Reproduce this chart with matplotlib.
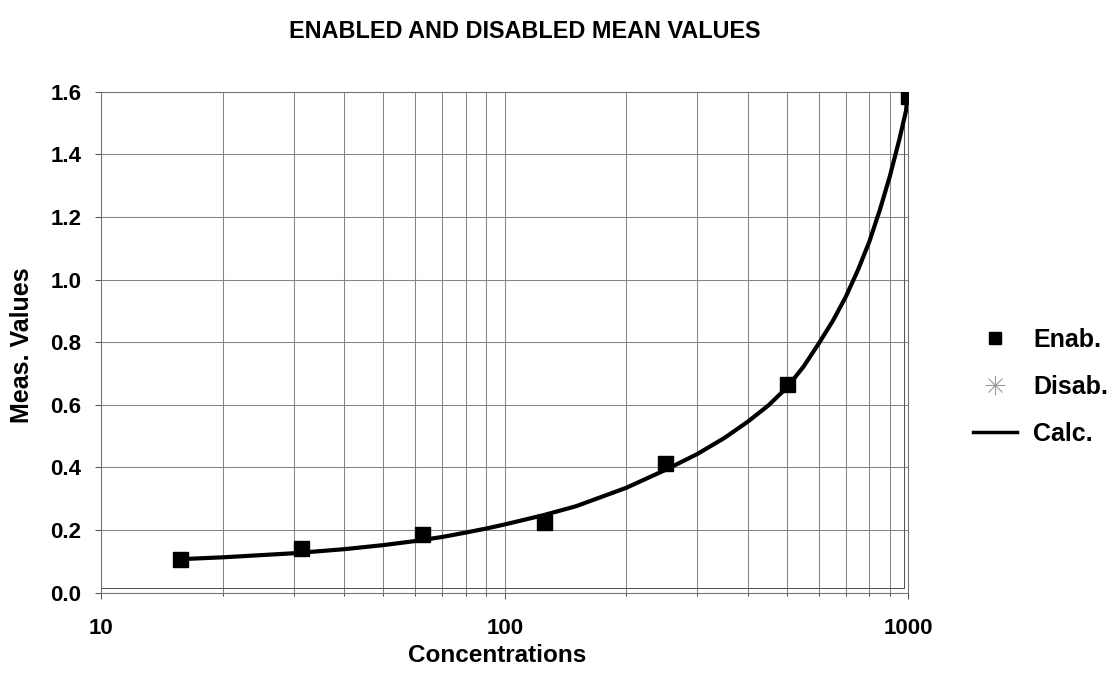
import matplotlib
matplotlib.use('Agg')
import matplotlib.pyplot as plt
from matplotlib.lines import Line2D
from matplotlib.path import Path
from matplotlib.ticker import LogLocator, NullFormatter, FixedLocator, FixedFormatter

# ---------------- data ----------------
conc = [15.625, 31.25, 62.5, 125, 250, 500, 1000]
enab = [0.108, 0.142, 0.187, 0.227, 0.414, 0.666, 1.585]
disab_x = []
disab_y = []
calc_x = [15.625, 20, 30, 40, 50, 60, 70, 80, 90, 100, 125, 150, 200, 250,
          300, 350, 400, 450, 500, 550, 600, 650, 700, 750, 800, 850, 900, 950, 1000]
calc_y = [0.107, 0.113, 0.126, 0.139, 0.152, 0.165, 0.178, 0.192, 0.205, 0.218,
          0.248, 0.276, 0.335, 0.392, 0.443, 0.494, 0.546, 0.598, 0.655, 0.722,
          0.796, 0.868, 0.945, 1.030, 1.120, 1.222, 1.330, 1.447, 1.570]
x_ticks = [10, 100, 1000]
x_tick_labels = ['10', '100', '1000']
y_ticks = [0.0, 0.2, 0.4, 0.6, 0.8, 1.0, 1.2, 1.4, 1.6]
y_tick_labels = ['0.0', '0.2', '0.4', '0.6', '0.8', '1.0', '1.2', '1.4', '1.6']
series_labels = ['Enab.', 'Disab.', 'Calc.']
title = 'ENABLED AND DISABLED MEAN VALUES'
x_label = 'Concentrations'
y_label = 'Meas. Values'

# ---------------- style ----------------
plt.rcParams['font.family'] = ['Liberation Sans', 'DejaVu Sans']
plt.rcParams['font.weight'] = 'bold'

W, H = 1111, 680
fig = plt.figure(figsize=(W / 100, H / 100), dpi=100)
L, R, T, B = 101.3, 908.3, 91.7, 592.7
ax = fig.add_axes([L / W, 1 - B / H, (R - L) / W, (B - T) / H])

ax.set_xscale('log')
ax.set_xlim(10, 1000)
ax.set_ylim(0, 1.6)
ax.xaxis.set_major_locator(FixedLocator(x_ticks))
ax.xaxis.set_major_formatter(FixedFormatter(x_tick_labels))
ax.xaxis.set_minor_locator(LogLocator(base=10, subs=range(2, 10)))
ax.xaxis.set_minor_formatter(NullFormatter())
ax.set_yticks(y_ticks)
ax.set_yticklabels(y_tick_labels)

gcol = '#858585'
ax.set_axisbelow(True)
ax.grid(which='both', axis='x', color=gcol, lw=0.75)
ax.grid(which='major', axis='y', color=gcol, lw=0.75)

for s in ['left', 'bottom', 'right', 'top']:
    ax.spines[s].set_color('#707070')
    ax.spines[s].set_linewidth(0.75)

# inner plot-area border (right and bottom)
ax.plot([0, 0.995, 0.995], [0.0088, 0.0088, 1.0], transform=ax.transAxes,
        color='#555555', lw=0.75, clip_on=False, zorder=1)

ax.tick_params(axis='both', which='major', direction='out', length=4.5, width=0.75,
               color='#555555', labelsize=16, pad=10)
ax.tick_params(axis='x', which='minor', direction='out', length=2.2, width=0.75,
               color='#555555')
ax.tick_params(axis='x', which='major', pad=13.5)
ax.tick_params(top=False, right=False, which='both')

# ---------------- series ----------------
ax.plot(calc_x, calc_y, color='black', lw=3.0, zorder=3, solid_capstyle='butt',
        solid_joinstyle='round')
ax.plot(conc, enab, ls='none', marker='s', color='black', ms=10.8, zorder=4)

star = Path([(0, -1), (0, 1), (-1, 0), (1, 0), (-0.72, -0.72), (0.72, 0.72),
             (-0.72, 0.72), (0.72, -0.72)],
            [Path.MOVETO, Path.LINETO] * 4)
ax.plot(disab_x, disab_y, ls='none', marker=star, mec='#999999', mfc='none', ms=14)

# ---------------- text ----------------
fig.text(525 / W, 1 - 32 / H, title, ha='center', va='center', fontsize=16.8, weight='bold')
fig.text(497 / W, 1 - 656 / H, x_label, ha='center', va='center', fontsize=17.5, weight='bold')
fig.text(22 / W, 1 - 345 / H, y_label, ha='center', va='center', rotation=90,
         fontsize=18, weight='bold')

# ---------------- legend ----------------
h1 = Line2D([], [], ls='none', marker='s', color='black', ms=8.6)
h2 = Line2D([], [], ls='none', marker=star, mec='#999999', mfc='none', ms=14, mew=0.8)
h3 = Line2D([], [], color='black', lw=2.5)
fig.legend([h1, h2, h3], series_labels, loc='center left',
           bbox_to_anchor=(973 / W, 1 - 387 / H), frameon=False, borderpad=0,
           borderaxespad=0, handlelength=1.76, handletextpad=0.64, labelspacing=0.92,
           prop={'size': 18, 'weight': 'bold'})

fig.savefig('out.png', dpi=100)
